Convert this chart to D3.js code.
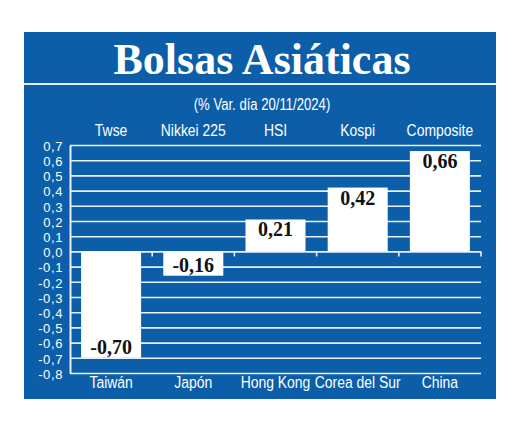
<!DOCTYPE html>
<html>
<head>
<meta charset="utf-8">
<script src="https://cdn.jsdelivr.net/npm/d3@7"></script>
<title>Bolsas Asiáticas</title>
<style>
  body { margin: 0; background: #fff; }
  svg { display: block; }
</style>
</head>
<body>
<div id="chart"></div>
<script>
// values (% var. 20/11/2024)
var indices   = ["Twse", "Nikkei 225", "HSI", "Kospi", "Composite"];
var countries = ["Taiwán", "Japón", "Hong Kong", "Corea del Sur", "China"];
var values    = [-0.70, -0.16, 0.21, 0.42, 0.66];
var yTicks    = [-0.8, -0.7, -0.6, -0.5, -0.4, -0.3, -0.2, -0.1, 0.0, 0.1, 0.2, 0.3, 0.4, 0.5, 0.6, 0.7];

var W = 520, H = 425;
var blue = "#0c5ea9", lineCol = "#e9f0f8";
var sans = "'Liberation Sans', Arial, sans-serif";
var narrow = 0.82; // fake a condensed face by squeezing Liberation Sans

var es = d3.formatLocale({decimal: ",", thousands: ".", grouping: [3], currency: ["", " €"], minus: "-"});
var fmtTick = es.format(".1f"),
    fmtVal = es.format(".2f");

var svg = d3.select("#chart").append("svg")
    .attr("width", W)
    .attr("height", H);

// condensed white label, centred at (cx, cy)
function narrowText(g, cx, cy, size, txt) {
  return g.append("text")
      .attr("transform", "translate(" + cx + "," + cy + ") scale(" + narrow + ",1)")
      .attr("text-anchor", "middle")
      .attr("fill", "#fff")
      .style("font-family", sans)
      .style("font-size", size + "px")
      .text(txt);
}

// blue panel
svg.append("rect")
    .attr("x", 24).attr("y", 32)
    .attr("width", 472).attr("height", 367)
    .attr("fill", blue);

svg.append("text")
    .attr("x", 262).attr("y", 74)
    .attr("text-anchor", "middle")
    .attr("fill", "#fff")
    .style("font-family", "'Liberation Serif', serif")
    .style("font-weight", "bold")
    .style("font-size", "44px")
    .text("Bolsas Asiáticas");

svg.append("rect")
    .attr("x", 24).attr("y", 83)
    .attr("width", 472).attr("height", 2)
    .attr("fill", lineCol);

narrowText(svg, 262, 110, 16, "(% Var. día 20/11/2024)");

// plot area
var x0 = 70, x1 = 481;
var x = d3.scaleBand()
    .domain(countries)
    .range([x0, x1])
    .paddingInner(0.27)
    .paddingOuter(0.135);

var y = d3.scaleLinear()
    .domain([-0.8, 0.7])
    .range([373, 145]);

// gridlines + tick labels
var yAxis = svg.append("g")
    .attr("transform", "translate(" + x0 + ",0)")
    .call(d3.axisLeft(y)
        .tickValues(yTicks)
        .tickSize(-(x1 - x0))
        .tickSizeOuter(0)
        .tickPadding(7)
        .tickFormat(fmtTick));

yAxis.select(".domain")
    .attr("stroke", lineCol)
    .attr("stroke-width", 2);
yAxis.selectAll(".tick line")
    .attr("stroke", lineCol)
    .attr("stroke-width", 1.6);
yAxis.selectAll(".tick text")
    .attr("fill", "#fff")
    .attr("dy", "0.4em")
    .style("font-family", sans)
    .style("font-size", "13px")
    .style("letter-spacing", "0.6px");

// small ticks under the zero line, between the bars
var step = x.step();
svg.selectAll("line.zt")
    .data(countries)
    .enter()
    .append("line")
    .attr("class", "zt")
    .attr("x1", function(d) { return x(d) + x.bandwidth() + (step - x.bandwidth()) / 2; })
    .attr("x2", function(d) { return x(d) + x.bandwidth() + (step - x.bandwidth()) / 2; })
    .attr("y1", y(0))
    .attr("y2", y(0) + 5)
    .attr("stroke", lineCol)
    .attr("stroke-width", 1.6);

// bars
svg.selectAll("rect.bar")
    .data(values)
    .enter()
    .append("rect")
    .attr("class", "bar")
    .attr("x", function(d, i) { return x(countries[i]); })
    .attr("y", function(d) { return y(Math.max(0, d)); })
    .attr("width", x.bandwidth())
    .attr("height", function(d) { return Math.abs(y(d) - y(0)); })
    .attr("fill", "#fff");

// value labels
svg.selectAll("text.val")
    .data(values)
    .enter()
    .append("text")
    .attr("class", "val")
    .attr("x", function(d, i) { return x(countries[i]) + x.bandwidth() / 2; })
    .attr("y", function(d) { return d < 0 ? y(d) - 4 : y(d) + 17; })
    .attr("text-anchor", "middle")
    .attr("fill", "#111")
    .style("font-family", "'Liberation Serif', serif")
    .style("font-weight", "bold")
    .style("font-size", "20px")
    .text(function(d) { return fmtVal(d); });

// index names on top, country names at the bottom
indices.forEach(function(d, i) {
  narrowText(svg, x(countries[i]) + x.bandwidth() / 2, 136, 17, d);
});
countries.forEach(function(d) {
  narrowText(svg, x(d) + x.bandwidth() / 2, 388, 17, d);
});
</script>
</body>
</html>
